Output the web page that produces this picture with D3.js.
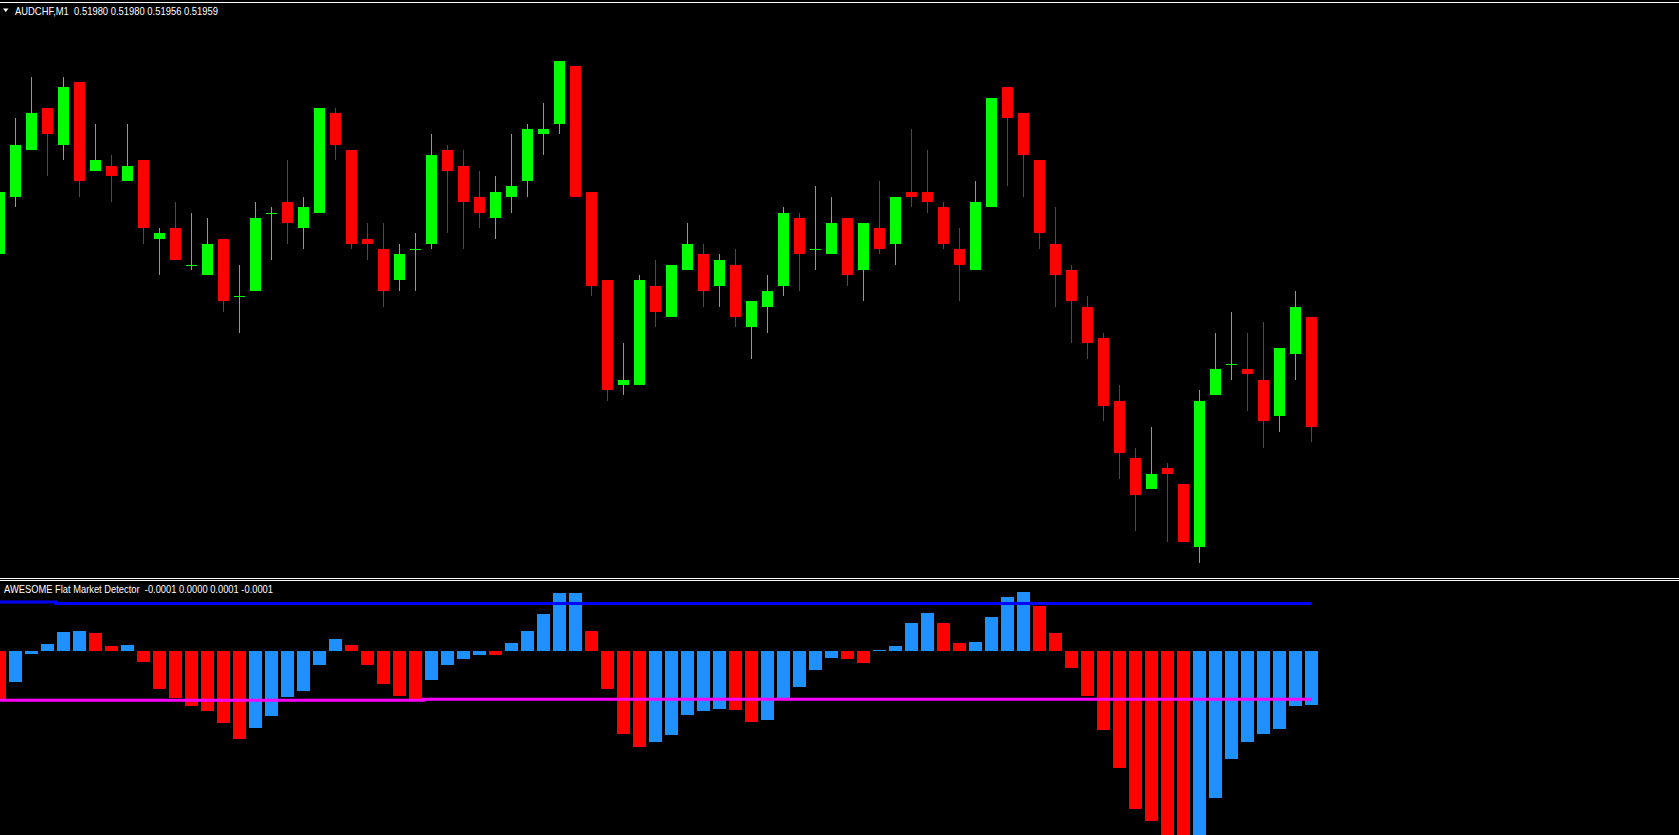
<!DOCTYPE html>
<html>
<head>
<meta charset="utf-8">
<script src="https://cdn.jsdelivr.net/npm/d3@7"></script>
<style>
  html, body { margin: 0; padding: 0; background: #000; overflow: hidden; }
  svg { display: block; }
  text { white-space: pre; }
</style>
</head>
<body>
<script>
// ---- Data ----
const symbol = "AUDCHF,M1";
const indicatorName = "AWESOME Flat Market Detector";
const indicatorReadout = ["-0.0001", "0.0000", "0.0001", "-0.0001"];

const candleOpen = [0.51992,0.52003,0.52012,0.52020,0.52013,0.52025,0.52008,0.52009,0.52006,0.52010,
  0.51995,0.51997,0.51990,0.51988,0.51995,0.51984,0.51985,0.52000,0.52002,0.51997,
  0.52000,0.52019,0.52012,0.51995,0.51993,0.51987,0.51993,0.51994,0.52012,0.52009,
  0.52003,0.51999,0.52003,0.52006,0.52015,0.52017,0.52028,0.52004,0.51987,0.51967,
  0.51967,0.51986,0.51980,0.51989,0.51992,0.51986,0.51990,0.51978,0.51982,0.51986,
  0.51999,0.51993,0.51992,0.51999,0.51989,0.51997,0.51994,0.52004,0.52004,0.52001,
  0.51993,0.51989,0.52001,0.52024,0.52019,0.52010,0.51994,0.51989,0.51982,0.51976,
  0.51964,0.51953,0.51947,0.51951,0.51948,0.51936,0.51965,0.51971,0.51970,0.51968,
  0.51961,0.51973,0.51980];
const candleHigh = [0.52004,0.52018,0.52026,0.52020,0.52026,0.52025,0.52017,0.52011,0.52017,0.52010,
  0.51997,0.52002,0.52000,0.51999,0.51995,0.51990,0.52002,0.52001,0.52010,0.52003,
  0.52020,0.52020,0.52012,0.51998,0.51998,0.51994,0.51996,0.52015,0.52013,0.52012,
  0.52008,0.52007,0.52015,0.52017,0.52021,0.52029,0.52028,0.52004,0.51987,0.51975,
  0.51988,0.51991,0.51990,0.51998,0.51994,0.51992,0.51993,0.51983,0.51988,0.52001,
  0.52000,0.52005,0.52003,0.51999,0.51998,0.52006,0.52003,0.52016,0.52012,0.52002,
  0.51997,0.52006,0.52022,0.52024,0.52019,0.52010,0.52001,0.51990,0.51984,0.51977,
  0.51967,0.51955,0.51959,0.51952,0.51948,0.51966,0.51977,0.51981,0.51977,0.51979,
  0.51974,0.51985,0.51980];
const candleLow = [0.51992,0.52001,0.52012,0.52007,0.52010,0.52003,0.52008,0.52002,0.52006,0.51994,
  0.51988,0.51991,0.51989,0.51988,0.51981,0.51977,0.51985,0.51991,0.51994,0.51993,
  0.52000,0.52010,0.51993,0.51991,0.51982,0.51985,0.51985,0.51993,0.51996,0.51993,
  0.51997,0.51995,0.52000,0.52003,0.52011,0.52015,0.52003,0.51984,0.51964,0.51965,
  0.51967,0.51978,0.51980,0.51989,0.51982,0.51982,0.51978,0.51972,0.51977,0.51984,
  0.51985,0.51989,0.51992,0.51986,0.51983,0.51992,0.51990,0.52001,0.52000,0.51993,
  0.51983,0.51989,0.52001,0.52005,0.52003,0.51993,0.51982,0.51975,0.51972,0.51960,
  0.51949,0.51939,0.51947,0.51937,0.51937,0.51933,0.51965,0.51968,0.51962,0.51955,
  0.51958,0.51968,0.51956];
const candleClose = [0.52004,0.52013,0.52019,0.52015,0.52024,0.52006,0.52010,0.52007,0.52009,0.51997,
  0.51996,0.51991,0.51990,0.51994,0.51983,0.51984,0.51999,0.52000,0.51998,0.52001,
  0.52020,0.52013,0.51994,0.51994,0.51985,0.51992,0.51993,0.52011,0.52008,0.52002,
  0.52000,0.52004,0.52005,0.52016,0.52016,0.52029,0.52003,0.51986,0.51966,0.51968,
  0.51987,0.51981,0.51990,0.51994,0.51985,0.51991,0.51980,0.51983,0.51985,0.52000,
  0.51992,0.51993,0.51998,0.51988,0.51998,0.51993,0.52003,0.52003,0.52002,0.51994,
  0.51990,0.52002,0.52022,0.52018,0.52011,0.51996,0.51988,0.51983,0.51975,0.51963,
  0.51954,0.51946,0.51950,0.51950,0.51937,0.51964,0.51970,0.51971,0.51969,0.51960,
  0.51974,0.51982,0.51959];

// Indicator histogram values (in points, 1 point = 0.00001)
const aoValues = [-10.0,-6.4,-0.6,1.5,4.0,4.2,3.8,1.0,1.3,-2.2,
  -7.9,-9.7,-11.4,-12.6,-15.1,-18.3,-16.0,-13.5,-9.5,-8.3,
  -2.9,2.5,1.3,-2.9,-6.8,-9.3,-10.2,-6.0,-2.9,-1.7,
  -0.8,-0.9,1.7,4.2,7.7,12.0,12.1,4.2,-7.9,-17.3,
  -20.0,-19.0,-17.5,-13.3,-12.5,-12.1,-12.2,-14.8,-14.4,-10.0,
  -7.5,-4.0,-1.5,-1.7,-2.5,0.2,1.0,5.8,7.9,5.8,
  1.7,1.9,7.1,11.3,12.3,9.4,3.8,-3.5,-9.4,-16.5,
  -24.4,-32.9,-35.4,-38.5,-39.6,-39.0,-30.6,-22.5,-19.0,-17.3,
  -16.3,-11.5,-11.3];
// Level lines: [starting bar index, level value in points]
const upperLevelSteps = [[0, 10.2], [4, 9.9]];
const lowerLevelSteps = [[0, -10.27], [27, -10.06]];

// ---- Layout ----
const W = 1679, H = 835;
const mainTop = 3, mainBottom = 577;
const subTop = 581, subBottom = 835;
const GREEN = "#00FF00", RED = "#FF0000", BLUE_BAR = "#1E90FF";

const n = candleOpen.length;
const candles = d3.range(n).map(i => ({
  i, o: candleOpen[i], h: candleHigh[i], l: candleLow[i], c: candleClose[i]
}));

const svg = d3.select("body").append("svg")
  .attr("width", W).attr("height", H)
  .style("background", "#000");

const x = d3.scaleLinear().domain([0, n - 1]).range([-0.5, -0.5 + 16 * (n - 1)]);
const y = d3.scaleLinear().domain([0.51980, 0.51959]).range([317, 426.7]);
const yInd = d3.scaleLinear().domain([-10, 10]).range([699, 603]);

const defs = svg.append("defs");
defs.append("clipPath").attr("id", "clipMain").append("rect")
  .attr("x", 0).attr("y", mainTop).attr("width", W).attr("height", mainBottom - mainTop);
defs.append("clipPath").attr("id", "clipSub").append("rect")
  .attr("x", 0).attr("y", subTop).attr("width", W).attr("height", subBottom - subTop);

// Separator lines
svg.append("line").attr("x1", 0).attr("x2", W).attr("y1", 2.5).attr("y2", 2.5)
  .attr("stroke", "#fff").attr("stroke-width", 1);
svg.append("line").attr("x1", 0).attr("x2", W).attr("y1", 578.5).attr("y2", 578.5)
  .attr("stroke", "#fff").attr("stroke-width", 1);
svg.append("line").attr("x1", 0).attr("x2", W).attr("y1", 580.5).attr("y2", 580.5)
  .attr("stroke", "#fff").attr("stroke-width", 1);

// ---- Candles ----
const gMain = svg.append("g").attr("clip-path", "url(#clipMain)")
  .attr("shape-rendering", "crispEdges");
const colorOf = d => d.c >= d.o ? GREEN : RED;

gMain.selectAll("line.wick").data(candles).join("line")
  .attr("class", "wick")
  .attr("x1", d => Math.round(x(d.i) - 0.5) + 0.5)
  .attr("x2", d => Math.round(x(d.i) - 0.5) + 0.5)
  .attr("y1", d => y(d.h)).attr("y2", d => y(d.l))
  .attr("stroke", colorOf).attr("stroke-width", 1);

gMain.selectAll("rect.body").data(candles.filter(d => d.o !== d.c)).join("rect")
  .attr("class", "body")
  .attr("x", d => x(d.i) - 5.5)
  .attr("width", 11)
  .attr("y", d => y(Math.max(d.o, d.c)))
  .attr("height", d => Math.max(1, y(Math.min(d.o, d.c)) - y(Math.max(d.o, d.c))))
  .attr("fill", colorOf);

gMain.selectAll("line.doji").data(candles.filter(d => d.o === d.c)).join("line")
  .attr("class", "doji")
  .attr("x1", d => x(d.i) - 5.5).attr("x2", d => x(d.i) + 5.5)
  .attr("y1", d => Math.round(y(d.o)) + 0.5).attr("y2", d => Math.round(y(d.o)) + 0.5)
  .attr("stroke", colorOf).attr("stroke-width", 1);

// ---- Indicator ----
const gSub = svg.append("g").attr("clip-path", "url(#clipSub)");
const bars = aoValues.map((v, i) => ({ i, v, up: i > 0 && v > aoValues[i - 1] }));

gSub.append("g").attr("shape-rendering", "crispEdges")
  .selectAll("rect").data(bars).join("rect")
  .attr("x", d => x(d.i) - 6.5)
  .attr("width", 13)
  .attr("y", d => Math.min(yInd(0), yInd(d.v)))
  .attr("height", d => Math.abs(yInd(d.v) - yInd(0)))
  .attr("fill", d => d.up ? BLUE_BAR : RED);

function levelSeries(steps) {
  return d3.range(n).map(i => {
    let val = steps[0][1];
    steps.forEach(s => { if (i >= s[0]) val = s[1]; });
    return { i, v: val };
  });
}
const levelLine = d3.line().x(d => x(d.i)).y(d => yInd(d.v)).curve(d3.curveStep);
gSub.append("path").datum(levelSeries(upperLevelSteps))
  .attr("d", levelLine).attr("fill", "none")
  .attr("stroke", "#0000FF").attr("stroke-width", 3);
gSub.append("path").datum(levelSeries(lowerLevelSteps))
  .attr("d", levelLine).attr("fill", "none")
  .attr("stroke", "#FF00FF").attr("stroke-width", 3);

// ---- Labels ----
const last = candles[n - 1];
svg.append("path").attr("d", "M3,8.5 L8.5,8.5 L5.75,12 Z").attr("fill", "#fff");
svg.append("text")
  .attr("x", 15).attr("y", 14.5)
  .attr("fill", "#fff")
  .attr("font-family", "'Liberation Sans', Arial, sans-serif")
  .attr("font-size", 10.8)
  .attr("textLength", 203).attr("lengthAdjust", "spacingAndGlyphs")
  .text(symbol + "  " + [last.o, last.h, last.l, last.c].map(v => v.toFixed(5)).join(" "));

svg.append("text")
  .attr("x", 4).attr("y", 592.5)
  .attr("fill", "#fff")
  .attr("font-family", "'Liberation Sans', Arial, sans-serif")
  .attr("font-size", 10.8)
  .attr("textLength", 269).attr("lengthAdjust", "spacingAndGlyphs")
  .text(indicatorName + "  " + indicatorReadout.join(" "));
</script>
</body>
</html>
